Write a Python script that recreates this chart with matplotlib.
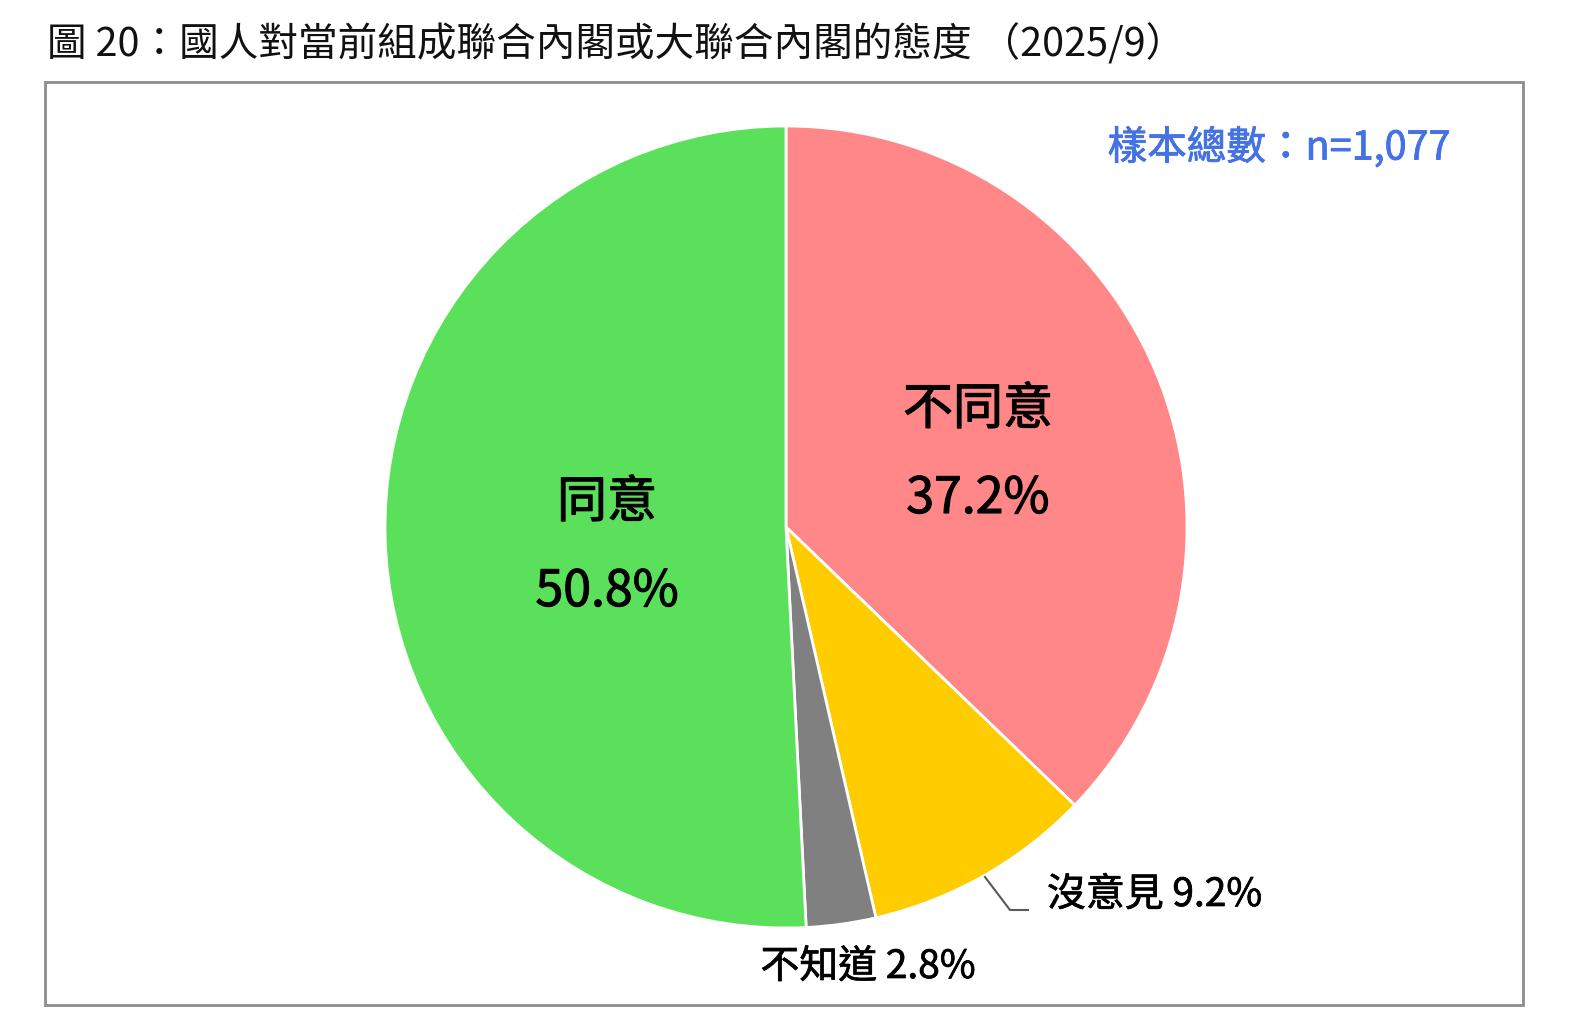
import matplotlib
matplotlib.use('Agg')
import matplotlib.pyplot as plt
import matplotlib.patheffects as pe
from matplotlib.patches import Rectangle

plt.rcParams['font.family'] = ['Noto Sans CJK TC', 'DejaVu Sans']

# Datos de la encuesta (orden horario desde arriba)
categorias = ['不同意', '沒意見', '不知道', '同意']
porcentajes = [37.2, 9.2, 2.8, 50.8]
colores = ['#FF8787', '#FFCC00', '#808080', '#5BE05B']
titulo = '圖 20：國人對當前組成聯合內閣或大聯合內閣的態度 （2025/9）'
muestra = '樣本總數：n=1,077'

W, H = 1580, 1035
fig = plt.figure(figsize=(W / 100, H / 100), dpi=100)

# Marco gris alrededor del gráfico
fig.patches.append(Rectangle((45 / W, 1 - 1005 / H), (1523 - 45) / W, (1005 - 82) / H,
                             transform=fig.transFigure, fill=False,
                             edgecolor='#8C8C8C', linewidth=2))

fig.text(47 / W, 1 - 45 / H, titulo, fontsize=28.5, va='center', ha='left', color='#111111')

# Ejes del pastel: centro (786, 527) px, radio 401 px
cx, cy, r = 786, 527, 401
ax = fig.add_axes([(cx - r) / W, 1 - (cy + r) / H, 2 * r / W, 2 * r / H])
ax.pie(porcentajes, colors=colores, startangle=90, counterclock=False,
       wedgeprops=dict(edgecolor='white', linewidth=2))
ax.set_xlim(-1, 1)
ax.set_ylim(-1, 1)
ax.set_aspect('auto')
ax.axis('off')

def px(x, y):
    # convierte píxeles de la figura a coordenadas de datos del pastel
    return (x - cx) / r, (cy - y) / r

# trazo fino para engrosar un poco la letra (peso "medium")
grueso = [pe.withStroke(linewidth=0.8, foreground='black')]
fino = [pe.withStroke(linewidth=0.5, foreground='black')]

# Etiquetas grandes dentro de los sectores
for nombre, valor, (x, y) in [(categorias[3], porcentajes[3], (607, 548)),
                              (categorias[0], porcentajes[0], (978, 455))]:
    ax.text(*px(x, y - 45), nombre, fontsize=36, ha='center', va='center', path_effects=grueso)
    ax.text(*px(x, y + 44), f'{valor}%', fontsize=36, ha='center', va='center', path_effects=grueso)

# Etiquetas pequeñas fuera del pastel
ax.text(*px(1047, 895), f'{categorias[1]} {porcentajes[1]}%', fontsize=28,
        ha='left', va='center', path_effects=fino)
ax.text(*px(868, 967), f'{categorias[2]} {porcentajes[2]}%', fontsize=28,
        ha='center', va='center', path_effects=fino)

# Línea guía para 沒意見
lx = [px(985, 877)[0], px(1010, 910)[0], px(1028, 910)[0]]
ly = [px(985, 877)[1], px(1010, 910)[1], px(1028, 910)[1]]
ax.plot(lx, ly, color='#595959', linewidth=1.5, clip_on=False)

fig.text(1451 / W, 1 - 148 / H, muestra, fontsize=28.5, color='#4472E4',
         ha='right', va='center',
         path_effects=[pe.withStroke(linewidth=0.6, foreground='#4472E4')])

fig.savefig('out.png', dpi=100)
